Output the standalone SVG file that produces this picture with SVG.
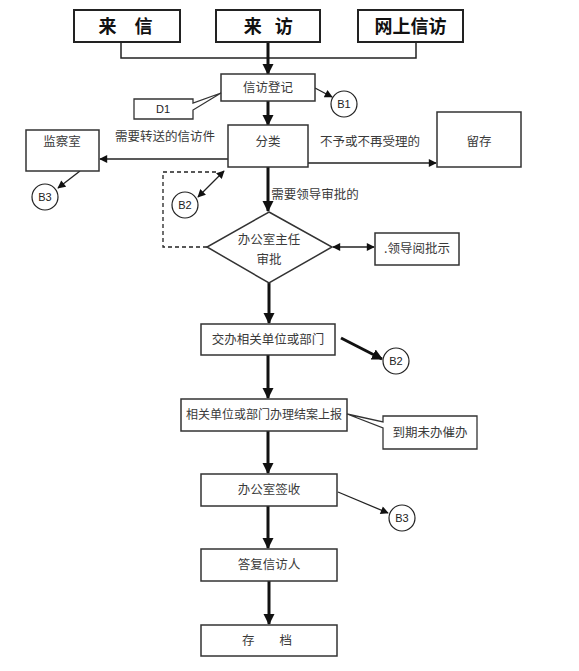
<svg xmlns="http://www.w3.org/2000/svg" width="579" height="671" viewBox="0 0 579 671">
<style>
.box{fill:#fff;stroke:#333;stroke-width:1.5}
.tbox{fill:#fff;stroke:#222;stroke-width:2}
.big{font-family:"Noto Sans CJK SC","Liberation Sans",sans-serif;font-size:18px;font-weight:bold;fill:#111;text-anchor:middle}
.t{font-family:"Noto Sans CJK SC","Liberation Sans",sans-serif;font-size:12.5px;fill:#3a3a3a;text-anchor:middle}
.lb{font-family:"Liberation Sans","Noto Sans",sans-serif;font-size:11px;fill:#222;text-anchor:middle}
.thick{stroke:#111;stroke-width:3;fill:none}
.thin{stroke:#222;stroke-width:1.3;fill:none}
.circ{fill:#fff;stroke:#222;stroke-width:1.2}
</style>
<defs>
<marker id="ah" viewBox="0 0 10 10" refX="9" refY="5" markerWidth="11" markerHeight="12" markerUnits="userSpaceOnUse" orient="auto"><path d="M0,0 L10,5 L0,10 z" fill="#111"/></marker>
<marker id="as" viewBox="0 0 10 10" refX="9" refY="5" markerWidth="9" markerHeight="8" markerUnits="userSpaceOnUse" orient="auto-start-reverse"><path d="M0,0 L10,5 L0,10 z" fill="#111"/></marker>
</defs>
<rect width="579" height="671" fill="#fff"/>
<g id="connectors">
<polyline class="thin" points="121,42 121,58 416,58 416,42" style="stroke-width:1.5"/>
<line class="thick" x1="268" y1="42" x2="268" y2="74" marker-end="url(#ah)"/>
<line class="thick" x1="268" y1="101" x2="268" y2="125" marker-end="url(#ah)"/>
<line class="thin" x1="315" y1="88" x2="332" y2="97" marker-end="url(#as)"/>
<line class="thin" x1="228" y1="159" x2="100" y2="159" marker-end="url(#as)"/>
<line class="thin" x1="308" y1="163" x2="436" y2="163" marker-end="url(#as)"/>
<line class="thin" x1="80" y1="171" x2="58" y2="188" marker-end="url(#as)"/>
<line class="thin" x1="198" y1="197" x2="224" y2="171" marker-start="url(#as)" marker-end="url(#as)"/>
<polyline class="thin" points="207,247 163,247 163,172 218,172" stroke-dasharray="4,3"/>
<line class="thick" x1="268" y1="167" x2="268" y2="211" marker-end="url(#ah)"/>
<line class="thin" x1="333" y1="247" x2="374" y2="247" marker-start="url(#as)" marker-end="url(#as)"/>
<line class="thick" x1="269" y1="283" x2="269" y2="323" marker-end="url(#ah)"/>
<line class="thick" x1="341" y1="338" x2="382" y2="359" marker-end="url(#ah)"/>
<line class="thick" x1="268" y1="355" x2="268" y2="398" marker-end="url(#ah)"/>
<line class="thick" x1="268" y1="431" x2="268" y2="473" marker-end="url(#ah)"/>
<line class="thin" x1="338" y1="492" x2="388" y2="513" marker-end="url(#as)"/>
<line class="thick" x1="268" y1="506" x2="268" y2="548" marker-end="url(#ah)"/>
<line class="thick" x1="269" y1="581" x2="269" y2="624" marker-end="url(#ah)"/>
</g>
<g id="n_laixin"><rect class="tbox" x="74" y="10" width="106" height="32"/><text class="big" x="125.5" y="33">来　信</text></g>
<g id="n_laifang"><rect class="tbox" x="216" y="10" width="104" height="32"/><text class="big" x="267" y="33" letter-spacing="-2.5">来　访</text></g>
<g id="n_wangshang"><rect class="tbox" x="358" y="10" width="105" height="32"/><text class="big" x="410.5" y="33">网上信访</text></g>
<g id="n_dengji"><rect class="box" x="221" y="74" width="94" height="27"/><text class="t" x="268" y="92">信访登记</text></g>
<g id="n_d1"><path class="box" d="M134,99 H193 V103 L221,93 L193,110 V119 H134 Z" style="stroke-width:1.3"/><text class="lb" x="163" y="113">D1</text></g>
<g id="n_b1"><circle class="circ" cx="344" cy="104" r="13"/><text class="lb" x="344" y="108">B1</text></g>
<g id="n_fenlei"><rect class="box" x="228" y="125" width="80" height="42"/><text class="t" x="268" y="146">分类</text></g>
<g id="n_jiancha"><rect class="box" x="26" y="130" width="73" height="41"/><text class="t" x="62" y="146">监察室</text></g>
<text class="t" x="165" y="141">需要转送的信访件</text>
<g id="n_liucun"><rect class="box" x="437" y="112" width="84" height="55"/><text class="t" x="479" y="146">留存</text></g>
<text class="t" x="370" y="146">不予或不再受理的</text>
<g id="n_b3a"><circle class="circ" cx="45" cy="197" r="13"/><text class="lb" x="45" y="201">B3</text></g>
<g id="n_b2a"><circle class="circ" cx="185" cy="205" r="13"/><text class="lb" x="185" y="209">B2</text></g>
<text class="t" x="315" y="199">需要领导审批的</text>
<g id="n_shenpi"><polygon class="box" points="269,212 332,247 269,283 207,247"/><text class="t" x="269" y="244">办公室主任</text><text class="t" x="269" y="264">审批</text></g>
<g id="n_lingdao"><rect class="box" x="375" y="233" width="84" height="32"/><text class="t" x="417" y="253">.领导阅批示</text></g>
<g id="n_jiaoban"><rect class="box" x="201" y="324" width="134" height="31"/><text class="t" x="268" y="344">交办相关单位或部门</text></g>
<g id="n_b2b"><circle class="circ" cx="396" cy="361" r="13"/><text class="lb" x="396" y="365">B2</text></g>
<g id="n_banli"><rect class="box" x="181" y="399" width="166" height="32"/><text class="t" x="264" y="419" style="font-size:12px">相关单位或部门办理结案上报</text></g>
<g id="n_cuiban"><path class="box" d="M383,416 H477 V449 H383 V428 L347,414 L383,422 Z" style="stroke-width:1.3"/><text class="t" x="430" y="437">到期未办催办</text></g>
<g id="n_qianshou"><rect class="box" x="201" y="474" width="136" height="32"/><text class="t" x="269" y="494">办公室签收</text></g>
<g id="n_b3b"><circle class="circ" cx="402" cy="518" r="13"/><text class="lb" x="402" y="522">B3</text></g>
<g id="n_dafu"><rect class="box" x="201" y="549" width="136" height="32"/><text class="t" x="269" y="569">答复信访人</text></g>
<g id="n_cundang"><rect class="box" x="201" y="625" width="136" height="31"/><text class="t" x="267" y="645">存　　档</text></g>
</svg>
